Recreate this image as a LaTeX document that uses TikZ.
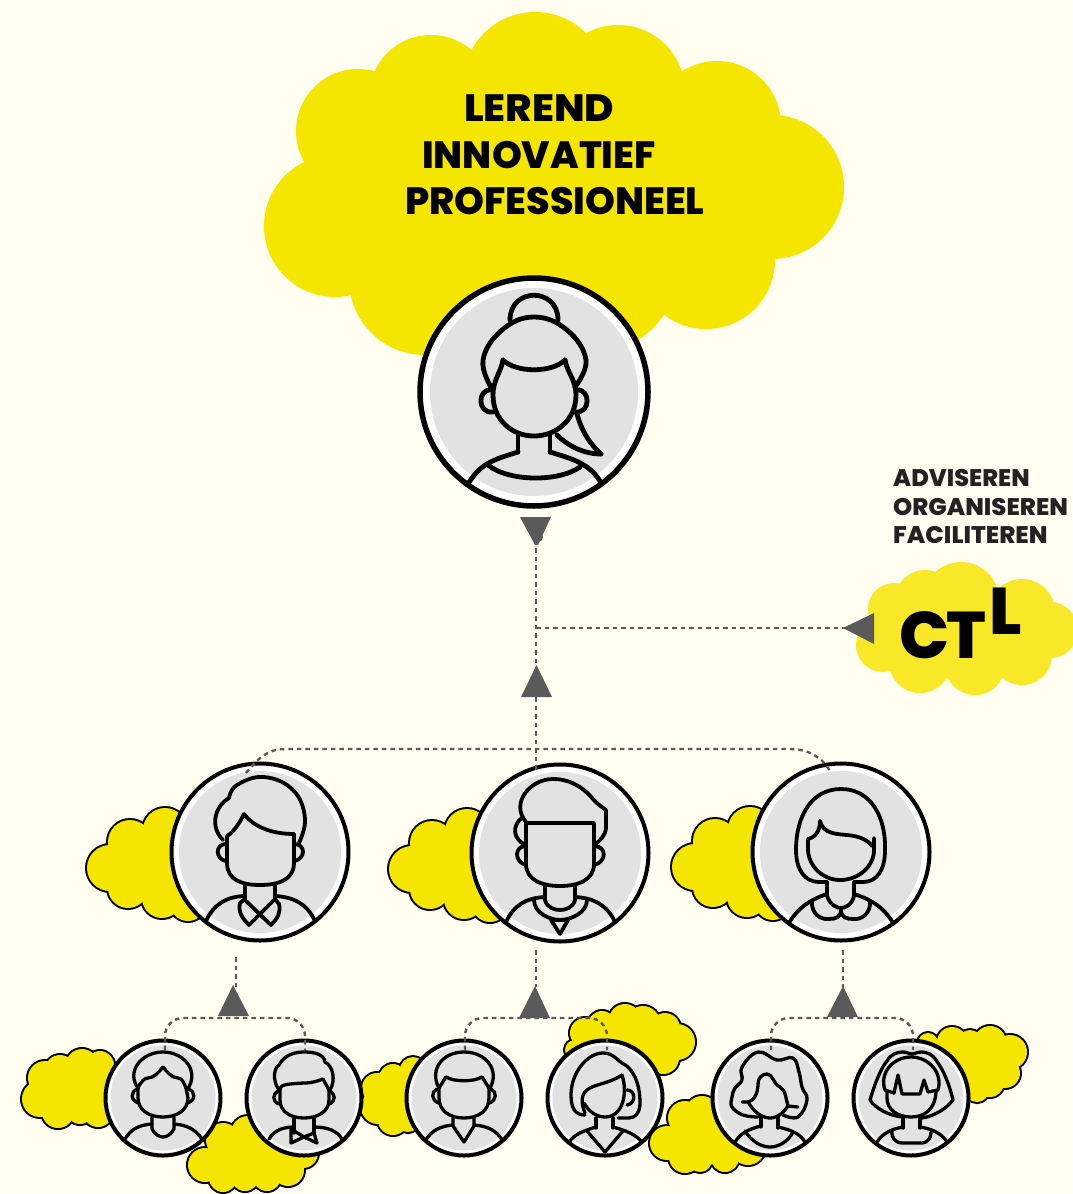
\documentclass[tikz,border=0pt]{standalone}
\usepackage{graphicx}
\usepackage{fontspec}
\setmainfont{Poppins}[BoldFont={Poppins ExtraBold}]
\definecolor{bgc}{HTML}{FFFEF0}
\definecolor{yel}{HTML}{F5E600}
\definecolor{ctly}{HTML}{F8E827}
\definecolor{greyf}{HTML}{E2E2E2}
\definecolor{conc}{HTML}{5A5A5A}
\definecolor{darkt}{HTML}{222222}
\newcommand\cloudlined[1]{%
  \foreach \cx/\cy/\cr in {#1} \draw[black,line width=4pt] (\cx,\cy) circle[radius=\cr];
  \foreach \cx/\cy/\cr in {#1} \fill[yel] (\cx,\cy) circle[radius=\cr];
}
\newcommand\cloudplain[2]{%
  \foreach \cx/\cy/\cr in {#2} \fill[#1] (\cx,\cy) circle[radius=\cr];
}
\newcommand\sm[1]{plot[smooth,tension=.7] coordinates {#1}}
\tikzset{
  x=1pt,y=-1pt,
  ringa/.style={circle,draw=black,fill=white,line width=5.5pt,minimum size=228pt,inner sep=0},
  ringb/.style={circle,draw=black,fill=white,line width=4pt,minimum size=177pt,inner sep=0},
  ringc/.style={circle,draw=black,fill=white,line width=4pt,minimum size=115pt,inner sep=0},
  conn/.style={conc,line width=2.4pt,dash pattern=on 4.5pt off 4pt},
  tri/.style={fill=conc},
  lna/.style={black,line width=4.8pt,line join=round,line cap=round},
  lnb/.style={black,line width=3.8pt,line join=round,line cap=round},
  lnc/.style={black,line width=3.3pt,line join=round,line cap=round},
  headline/.style={anchor=base west,inner sep=0,font=\bfseries\fontsize{38}{38}\selectfont,text=black},
  sideline/.style={anchor=base west,inner sep=0,font=\bfseries\fontsize{24}{24}\selectfont,text=darkt},
  ctlletter/.style={anchor=base west,inner sep=0,font=\bfseries\fontsize{66}{66}\selectfont,text=black},
}
\begin{document}
\begin{tikzpicture}
\useasboundingbox (0,0) rectangle (1072,1194);
\fill[bgc] (0,0) rectangle (1072,1194);

% big cloud
\cloudplain{yel}{535/84/72,358/131/62,431/97/62,618/92/67,717/125/64,772/187/72,706/260/69,335/226/71,425/279/76,550/220/130,600/275/75,450/200/110,660/200/90}
% CTL cloud
\cloudplain{ctly}{961/600/38,894/609/26,925/600/30,1022/612/33,1050/630/28,883/645/27,920/662/31,975/665/30,1022/655/30,960/630/50,900/630/30,1020/630/30}

% tier 2 clouds
\begin{scope}
\cloudlined{110/868/23,130/842/22,165/830/22,128/888/20,162/898/20,188/903/18,160/865/35}
\end{scope}
\begin{scope}[shift={(302,1)}]
\cloudlined{110/868/23,130/842/22,165/830/22,128/888/20,162/898/20,188/903/18,160/865/35}
\end{scope}
\begin{scope}[shift={(585,-1)}]
\cloudlined{110/868/23,130/842/22,165/830/22,128/888/20,162/898/20,188/903/18,160/865/35}
\end{scope}
% tier 3 clouds
\cloudlined{40/1099/18,45/1078/17,60/1070/15,82/1065/16,100/1065/14,58/1112/16,80/1110/14,98/1112/15,80/1090/25,110/1090/25}
\cloudlined{205/1165/17,223/1140/17,248/1133/17,223/1178/14,245/1177/14,267/1177/14,288/1170/16,303/1153/15,260/1150/30,225/1160/20,285/1150/20}
\cloudlined{378/1107/17,377/1088/15,393/1078/14,413/1070/13,393/1120/15,408/1120/12,400/1097/25}
\cloudlined{585/1033/15,602/1025/14,625/1020/16,643/1023/17,665/1028/15,677/1042/18,663/1058/16,630/1045/30,575/1050/10}
\cloudlined{667/1143/17,685/1118/17,702/1113/17,685/1157/16,700/1160/12,725/1158/14,748/1148/17,705/1135/30}
\cloudlined{1010/1052/17,990/1042/16,970/1042/12,952/1042/15,928/1043/10,1005/1073/15,990/1083/14,977/1090/12,975/1062/30}

% headline
\node[headline] (t1) at (464,121) {\scalebox{1.055}[1]{LEREND}};
\node[headline] (t2) at (422,168) {INNOVATIEF};
\node[headline] (t3) at (405,214) {PROFESSIONEEL};
\node[sideline] (s1) at (893,486) {ADVISEREN};
\node[sideline] (s2) at (893,515) {\scalebox{1.015}[1]{ORGANISEREN}};
\node[sideline] (s3) at (893,543) {\scalebox{1.02}[1]{FACILITEREN}};
\node[ctlletter] (c1) at (899,658) {C};
\node[ctlletter] (c2) at (946,658) {T};
\node[ctlletter] (c3) at (989,634) {L};

% main portrait
\node[ringa] (main) at (534,392) {};
\fill[greyf] (main.center) circle[radius=104];
\begin{scope}[shift={(main.center)}]
\draw[lna] (-24,-72) .. controls (-24,-105) and (24,-105) .. (24,-72);
\draw[lna] \sm{(-42,-3)(-51,-32)(-32,-62)(0,-75)(33,-62)(52,-32)(41,-5)};
\draw[lna] (-31,-32) .. controls (-18,-19) and (18,-19) .. (31,-32);
\draw[lna] (31,-32) .. controls (33,-20) and (42,-12) .. (42,3) .. controls (42,28) and (22,44) .. (0,44) .. controls (-22,44) and (-41,28) .. (-41,3) .. controls (-41,-12) and (-33,-20) .. (-31,-32);
\draw[lna] (-42,-2) .. controls (-57,-4) and (-57,22) .. (-41,20);
\draw[lna] (42,-2) .. controls (57,-4) and (57,22) .. (41,20);
\draw[lna] (-16,42) -- (-16,60);
\draw[lna] (16,42) -- (16,60);
\draw[lna] (-16,60) .. controls (-42,68) and (-54,72) .. (-66,92);
\draw[lna] (16,60) .. controls (42,68) and (56,72) .. (68,92);
\draw[lna] (-46,73) .. controls (-25,90) and (25,90) .. (46,75);
\draw[lna] (43,22) .. controls (48,40) and (56,52) .. (67,62);
\draw[lna] (67,62) .. controls (50,62) and (34,54) .. (23,43);
\end{scope}

% tier 2 portrait 1
\node[ringb] (m1) at (260,852) {};
\fill[greyf] (m1.center) circle[radius=81];
\begin{scope}[shift={(m1.center)}]
\draw[lnb] (-37,-12) .. controls (-50,-25) and (-46,-45) .. (-31,-54);
\draw[lnb] \sm{(-31,-54)(-23,-67)(4,-75)(33,-62)(45,-34)(39,-9)};
\draw[lnb] (-33,-16) .. controls (-26,-20) and (-20,-30) .. (-16,-38);
\draw[lnb] (-16,-38) .. controls (-6,-25) and (12,-18) .. (34,-18);
\draw[lnb] (-33,-16) -- (-33,11) .. controls (-33,28) and (-18,33) .. (0,33) .. controls (18,33) and (34,28) .. (34,11) -- (34,-18);
\draw[lnb] (-34,-8) .. controls (-45,-8) and (-45,7) .. (-34,9);
\draw[lnb] (34,-8) .. controls (46,-8) and (46,7) .. (34,9);
\draw[lnb] (-15,33) -- (-15,48);
\draw[lnb] (15,33) -- (15,47);
\draw[lnb] (-54,69) .. controls (-46,52) and (-34,45) .. (-16,44);
\draw[lnb] (55,69) .. controls (47,52) and (34,45) .. (15,44);
\draw[lnb] (-15,47) -- (-20,51) .. controls (-22,60) and (-18,66) .. (-11,73) -- (14,48);
\draw[lnb] (15,47) -- (19,52) .. controls (21,60) and (18,66) .. (11,73) -- (-15,48);
\end{scope}

% tier 2 portrait 2
\node[ringb] (m2) at (560,853) {};
\fill[greyf] (m2.center) circle[radius=81];
\begin{scope}[shift={(m2.center)}]
\draw[lnb] (-34,-31) .. controls (-50,-50) and (-30,-74) .. (-7,-74) .. controls (15,-74) and (28,-60) .. (33,-54) .. controls (37,-49) and (42,-46) .. (46,-43);
\draw[lnb] (46,-43) -- (46,-26) .. controls (46,-18) and (40,-12) .. (35,-9);
\draw[lnb] (-34,-30) -- (34,-30) -- (34,11) .. controls (34,27) and (18,33) .. (0,33) .. controls (-18,33) and (-34,27) .. (-34,11) -- cycle;
\draw[lnb] (-37,-36) .. controls (-49,-28) and (-47,-13) .. (-34,-8);
\draw[lnb] (-34,-7) .. controls (-46,-7) and (-46,9) .. (-34,12);
\draw[lnb] (34,-7) .. controls (47,-7) and (47,9) .. (34,12);
\draw[lnb] (-15,33) -- (-15,47) .. controls (-13,55) and (-5,57) .. (0,57) .. controls (5,57) and (13,55) .. (15,47) -- (15,33);
\draw[lnb] (-54,69) .. controls (-46,52) and (-34,45) .. (-15,44);
\draw[lnb] (55,69) .. controls (47,52) and (34,45) .. (15,44);
\draw[lnb] (-26,47) .. controls (-26,60) and (-10,67) .. (0,67) .. controls (10,67) and (27,60) .. (27,47);
\draw[lnb] (-9,67) -- (8,67) -- (0,81) -- cycle;
\end{scope}

% tier 2 portrait 3
\node[ringb] (m3) at (841,852) {};
\fill[greyf] (m3.center) circle[radius=81];
\begin{scope}[shift={(m3.center)}]
\draw[lnb] (-14,30) -- (-22,30) .. controls (-36,30) and (-45,18) .. (-45,-2) .. controls (-45,-35) and (-30,-63) .. (0,-63) .. controls (30,-63) and (45,-35) .. (44,-2) .. controls (44,18) and (36,30) .. (22,30) -- (13,30);
\draw[lnb] (-33,-13) -- (-33,-3) .. controls (-33,14) and (-18,28) .. (-1,28) .. controls (18,28) and (33,14) .. (33,-2) -- (33,-14);
\draw[lnb] (-33,-13) .. controls (-27,-14) and (-21,-20) .. (-21,-31);
\draw[lnb] (-21,-31) .. controls (-18,-18) and (-4,-18) .. (6,-17) .. controls (18,-16) and (27,-12) .. (31,-6);
\draw[lnb] (-14,30) -- (-14,44) .. controls (-11,53) and (-4,56) .. (0,56) .. controls (4,56) and (11,53) .. (13,44) -- (13,30);
\draw[lnb] (-52,71) .. controls (-44,57) and (-32,48) .. (-14,42);
\draw[lnb] (52,71) .. controls (44,57) and (32,48) .. (13,42);
\draw[lnb] (-29,49) .. controls (-30,62) and (-20,68) .. (-12,67) .. controls (-5,67) and (0,65) .. (0,58);
\draw[lnb] (29,49) .. controls (30,62) and (20,68) .. (12,67) .. controls (5,67) and (0,65) .. (0,58);
\end{scope}

% tier 3 portraits
\node[ringc] (b1) at (163,1098) {};
\fill[greyf] (b1.center) circle[radius=52.5];
\begin{scope}[shift={(b1.center)}]
\draw[lnc] (-25,-10) .. controls (-37,-26) and (-22,-46) .. (0,-46) .. controls (22,-46) and (37,-26) .. (24,-8);
\draw[lnc] (-25,-10) .. controls (-22,-17) and (-18,-20) .. (-15,-20) .. controls (-9,-20) and (-4,-26) .. (0,-31);
\draw[lnc] (0,-31) .. controls (4,-26) and (9,-20) .. (15,-20) .. controls (19,-20) and (21,-15) .. (23,-10);
\draw[lnc] (-25,-10) -- (-25,0) .. controls (-25,12) and (-14,19) .. (0,19) .. controls (14,19) and (25,12) .. (25,0) -- (23,-10);
\draw[lnc] (-25,-9) .. controls (-33,-7) and (-33,3) .. (-24,5);
\draw[lnc] (25,-9) .. controls (33,-7) and (33,3) .. (24,5);
\draw[lnc] (-11,19) -- (-11,31) .. controls (-8,37) and (-3,39) .. (0,39) .. controls (3,39) and (8,37) .. (11,31) -- (11,19);
\draw[lnc] (-38,41) .. controls (-32,31) and (-24,27) .. (-11,26);
\draw[lnc] (39,41) .. controls (32,31) and (24,27) .. (11,26);
\end{scope}

\node[ringc] (b2) at (304,1098) {};
\fill[greyf] (b2.center) circle[radius=52.5];
\begin{scope}[shift={(b2.center)}]
\draw[lnc] (-25,-8) .. controls (-32,-18) and (-30,-30) .. (-25,-33) .. controls (-19,-44) and (-8,-46) .. (0,-46) .. controls (10,-46) and (20,-44) .. (21,-36) .. controls (29,-32) and (32,-18) .. (26,-8);
\draw[lnc] (-24,-8) .. controls (-24,-13) and (-20,-14) .. (0,-15) .. controls (8,-15) and (14,-17) .. (19,-19) -- (25,-8);
\draw[lnc] (-24,-8) -- (-24,2) .. controls (-24,14) and (-13,20) .. (0,20) .. controls (13,20) and (25,14) .. (25,2) -- (25,-8);
\draw[lnc] (-25,-7) .. controls (-32,-5) and (-32,4) .. (-25,6);
\draw[lnc] (25,-7) .. controls (32,-5) and (32,4) .. (25,6);
\draw[lnc] (-10,20) -- (-10,35);
\draw[lnc] (10,20) -- (10,35);
\draw[lnc] (-13,31) -- (-13,45) -- (0,39) -- (13,45) -- (10,35) -- (0,39) -- cycle;
\draw[lnc] (-35,41) .. controls (-30,33) and (-22,29) .. (-10,29);
\draw[lnc] (38,41) .. controls (33,33) and (24,29) .. (10,29);
\end{scope}

\node[ringc] (b3) at (464,1098) {};
\fill[greyf] (b3.center) circle[radius=52.5];
\begin{scope}[shift={(b3.center)}]
\draw[lnc] (-25,-10) .. controls (-35,-28) and (-22,-46) .. (0,-46) .. controls (22,-46) and (36,-28) .. (26,-10);
\draw[lnc] (-18,-21) .. controls (-10,-16) and (10,-16) .. (18,-21);
\draw[lnc] (-25,-10) -- (-18,-21);
\draw[lnc] (25,-10) -- (18,-21);
\draw[lnc] (-25,-10) -- (-25,0) .. controls (-25,13) and (-14,20) .. (0,20) .. controls (14,20) and (25,13) .. (25,0) -- (25,-10);
\draw[lnc] (-27,-9) .. controls (-33,-7) and (-33,3) .. (-25,5);
\draw[lnc] (27,-9) .. controls (33,-7) and (33,3) .. (25,5);
\draw[lnc] (-11,20) -- (-11,28) -- (0,44) -- (10,28) -- (10,20);
\draw[lnc] (-38,42) .. controls (-33,33) and (-24,28) .. (-11,27);
\draw[lnc] (38,42) .. controls (33,33) and (24,28) .. (10,27);
\end{scope}

\node[ringc] (b4) at (605,1098) {};
\fill[greyf] (b4.center) circle[radius=52.5];
\begin{scope}[shift={(b4.center)}]
\draw[lnc] (-20,17) .. controls (-30,17) and (-34,10) .. (-34,-3) .. controls (-34,-25) and (-18,-45) .. (-2,-45) .. controls (8,-45) and (12,-38) .. (17,-35) .. controls (28,-30) and (35,-15) .. (35,5) .. controls (35,15) and (30,20) .. (24,20) -- (13,20);
\draw[lnc] (17,-23) .. controls (5,-15) and (-8,-14) .. (-15,-10) .. controls (-25,-5) and (-24,5) .. (-20,15);
\draw[lnc] (17,-23) .. controls (23,-5) and (18,19) .. (0,19) .. controls (-10,19) and (-17,12) .. (-21,5);
\draw[lnc] (22,-8) .. controls (31,-8) and (31,6) .. (22,7);
\draw[lnc] (-9,20) -- (-9,30);
\draw[lnc] (8,20) -- (8,30);
\draw[lnc] (-18,33) -- (0,54) -- (18,33);
\draw[lnc] (-36,44) .. controls (-30,36) and (-22,33) .. (-9,29);
\draw[lnc] (37,44) .. controls (30,36) and (22,33) .. (8,29);
\end{scope}

\node[ringc] (b5) at (770,1098) {};
\fill[greyf] (b5.center) circle[radius=52.5];
\begin{scope}[shift={(b5.center)}]
\draw[lnc] \sm{(-12,19)(-27,17)(-38,9)(-38,-1)(-35,-10)(-28,-18)(-28,-31)(-12,-46)(7,-38)(23,-40)(29,-26)(32,-11)(37,2)(28,19)(13,17)};
\draw[lnc] (-28,4) -- (-22,4) .. controls (-14,2) and (-12,-8) .. (-12,-14) .. controls (-12,-20) and (-8,-24) .. (-3,-24) .. controls (3,-24) and (3,-14) .. (10,-11) .. controls (16,-8) and (16,2) .. (18,8) -- (28,9);
\draw[lnc] (-22,4) .. controls (-16,14) and (-8,20) .. (0,20) .. controls (8,20) and (14,14) .. (18,8);
\draw[lnc] (-9,19) -- (-9,29);
\draw[lnc] (8,19) -- (8,30);
\draw[lnc] (-35,44) .. controls (-30,36) and (-22,31) .. (-9,28);
\draw[lnc] (35,44) .. controls (30,36) and (22,32) .. (8,29);
\draw[lnc] (-25,33) .. controls (-18,44) and (-8,49) .. (0,49) .. controls (8,49) and (18,44) .. (23,34);
\end{scope}

\node[ringc] (b6) at (911,1098) {};
\fill[greyf] (b6.center) circle[radius=52.5];
\begin{scope}[shift={(b6.center)}]
\draw[lnc] (-8,19) .. controls (-22,18) and (-36,10) .. (-41,2) .. controls (-36,-15) and (-30,-30) .. (-24,-37) .. controls (-20,-44) and (-14,-46) .. (-8,-46) .. controls (-4,-46) and (-2,-44) .. (1,-44) .. controls (4,-44) and (6,-46) .. (10,-46) .. controls (16,-46) and (22,-44) .. (27,-35) .. controls (32,-28) and (38,-15) .. (42,2) .. controls (36,10) and (24,18) .. (11,20);
\draw[lnc] (-26,-8) .. controls (-32,-25) and (-18,-41) .. (0,-41) .. controls (18,-41) and (32,-25) .. (27,-8);
\draw[lnc] (-26,-8) -- (-17,-5) -- (-13,-23) -- (-9,-4) -- (9,-4) -- (13,-18) -- (17,-6) -- (27,-8);
\draw[lnc] (-24,-6) -- (-24,0) .. controls (-24,12) and (-13,19) .. (0,19) .. controls (13,19) and (24,12) .. (25,-6);
\draw[lnc] (-8,19) -- (-8,30);
\draw[lnc] (9,19) -- (9,30);
\draw[lnc] (-34,44) .. controls (-29,36) and (-20,31) .. (-8,29);
\draw[lnc] (36,44) .. controls (31,36) and (22,31) .. (9,29);
\draw[lnc] (-19,32) .. controls (-20,40) and (-16,45) .. (-8,45) -- (10,45) .. controls (17,45) and (20,40) .. (20,34);
\end{scope}

% connector joints
\coordinate (downtip) at (536,548);
\coordinate (junction) at (536,628);
\coordinate (ctltip) at (846,628);
\coordinate (uptip) at (536,668);
\coordinate (upbase) at (536,697);
\coordinate (barmid) at (536,772);
\coordinate (barL) at (246,773);
\coordinate (barR) at (830,771);
\coordinate (aL) at (236,987);
\coordinate (aM) at (536,987);
\coordinate (aR) at (843,987);

% connectors
\draw[conn] (downtip) -- (uptip);
\draw[conn] (junction) -- (ctltip);
\draw[conn] (upbase) -- (barmid);
\draw[conn] (barL) .. controls (258,758) and (268,749) .. (285,749) -- (790,749) .. controls (808,749) and (822,757) .. (barR);
\draw[conn] ([shift={(-24,105)}]m1.center) -- (aL);
\draw[conn] (536,950) -- (aM);
\draw[conn] (843,950) -- (aR);
\draw[conn,rounded corners=18pt] (165,1050) -- (165,1018) -- (305,1018) -- (305,1050);
\draw[conn,rounded corners=18pt] (465,1050) -- (465,1018) -- (607,1018) -- (607,1050);
\draw[conn,rounded corners=18pt] (771,1050) -- (771,1018) -- (913,1018) -- (913,1050);

% arrowheads
\fill[tri] (520,517) -- (551,517) -- (538,545) -- (535,545) -- cycle;
\fill[tri] (538,537) circle[radius=5];
\fill[tri] (521,697) -- (552,697) -- (536.5,665) -- cycle;
\fill[tri] (874,613) -- (874,644) -- (843,628) -- cycle;
\fill[tri] (218,1016) -- (249,1016) -- (233,985) -- cycle;
\fill[tri] (519,1018) -- (550,1018) -- (535,986) -- cycle;
\fill[tri] (827,1017) -- (858,1017) -- (843,986) -- cycle;
\end{tikzpicture}
\end{document}
